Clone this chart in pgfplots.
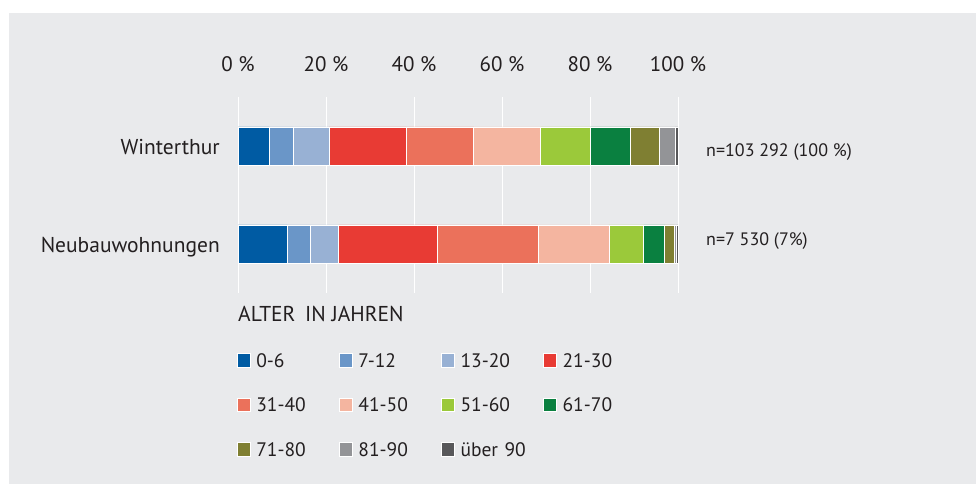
\documentclass[border=0pt]{standalone}
\usepackage{pgfplots}
\pgfplotsset{compat=1.18}
\usepackage{pgfplotstable}
\usepackage{fontspec}
\setmainfont{PT Sans}
\definecolor{bg}{HTML}{E9EAEC}
\definecolor{txt}{HTML}{231F20}
\definecolor{c1}{HTML}{005BA3}
\definecolor{c2}{HTML}{6A96C8}
\definecolor{c3}{HTML}{98B1D4}
\definecolor{c4}{HTML}{E83B34}
\definecolor{c5}{HTML}{EB715B}
\definecolor{c6}{HTML}{F4B5A0}
\definecolor{c7}{HTML}{9BC93A}
\definecolor{c8}{HTML}{0A8040}
\definecolor{c9}{HTML}{7F7F32}
\definecolor{c10}{HTML}{939497}
\definecolor{c11}{HTML}{58585A}
\pgfplotstableread{
y g0 g7 g13 g21 g31 g41 g51 g61 g71 g81 g90
1 7.1 5.5 8.1 17.5 15.4 15.2 11.2 9.2 6.6 3.6 0.6
0 11.3 5.2 6.4 22.4 22.9 16.1 7.9 4.8 2.2 0.5 0.3
}\data
\newcommand{\fmain}{\fontsize{21.5bp}{26bp}\selectfont}
\newcommand{\ftick}{\fontsize{21bp}{25bp}\selectfont}
\newcommand{\fleg}{\fontsize{19.5bp}{23bp}\selectfont}
\newcommand{\fn}{\fontsize{18bp}{21bp}\selectfont}
\begin{document}
\begin{tikzpicture}
\fill[white] (0,0) rectangle (976bp,484bp);
\fill[bg] (9bp,0) rectangle (976bp,471bp);
\begin{axis}[
  at={(238bp,191bp)}, anchor=south west,
  width=440bp, height=196bp, scale only axis,
  xmin=0, xmax=100, ymin=-0.5, ymax=1.5,
  xbar stacked, bar width=38bp,
  clip=false,
  axis line style={draw=none},
  major tick length=0pt,
  xtick={0,20,40,60,80,100},
  xticklabels={{0 \%},{20 \%},{40 \%},{60 \%},{80 \%},{100 \%}},
  xticklabel pos=upper,
  xticklabel style={anchor=base, yshift=25bp, inner sep=0pt, font=\ftick, text=txt},
  ytick={0,1},
  yticklabels={Neubauwohnungen,Winterthur},
  yticklabel style={anchor=base east, xshift=-18bp, yshift=-8.3bp, inner sep=0pt, font=\fmain, text=txt},
  xmajorgrids, ymajorgrids=false,
  major grid style={white, line width=0.9bp},
  legend columns=4,
  legend cell align=left,
  legend style={at={(0,0)}, anchor=north west, xshift=-1.3bp, yshift=-60.3bp,
    draw=none, fill=none, inner sep=0pt, outer sep=0pt, row sep=30.4bp,
    font=\fleg, text=txt,
    nodes={text width=82.5bp, inner sep=0pt, text height=13.3bp, text depth=0pt},
    /tikz/every odd column/.style={column sep=5.5bp}},
  legend image code/.code={\fill[#1] (0bp,-6.65bp) rectangle (13.3bp,6.65bp);},
  every axis plot/.append style={draw=white, line width=0.8bp},
]
\addplot[fill=c1] table[x=g0,y=y]{\data};
\addplot[fill=c2] table[x=g7,y=y]{\data};
\addplot[fill=c3] table[x=g13,y=y]{\data};
\addplot[fill=c4] table[x=g21,y=y]{\data};
\addplot[fill=c5] table[x=g31,y=y]{\data};
\addplot[fill=c6] table[x=g41,y=y]{\data};
\addplot[fill=c7] table[x=g51,y=y]{\data};
\addplot[fill=c8] table[x=g61,y=y]{\data};
\addplot[fill=c9] table[x=g71,y=y]{\data};
\addplot[fill=c10] table[x=g81,y=y]{\data};
\addplot[fill=c11] table[x=g90,y=y]{\data};
\legend{0-6,7-12,13-20,21-30,31-40,41-50,51-60,61-70,71-80,81-90,über 90}
\node[anchor=base west, inner sep=0pt, font=\fn, text=txt, xshift=28bp] at (axis cs:100,0.891) {n=103 292 (100 \%)};
\node[anchor=base west, inner sep=0pt, font=\fn, text=txt, xshift=28bp] at (axis cs:100,-0.02) {n=7 530 (7\%)};
\node[anchor=base west, inner sep=0pt, font=\fmain, text=txt, yshift=-28.7bp] at (axis description cs:0,0) {ALTER\hspace{0.45em}IN JAHREN};
\end{axis}
\end{tikzpicture}
\end{document}
